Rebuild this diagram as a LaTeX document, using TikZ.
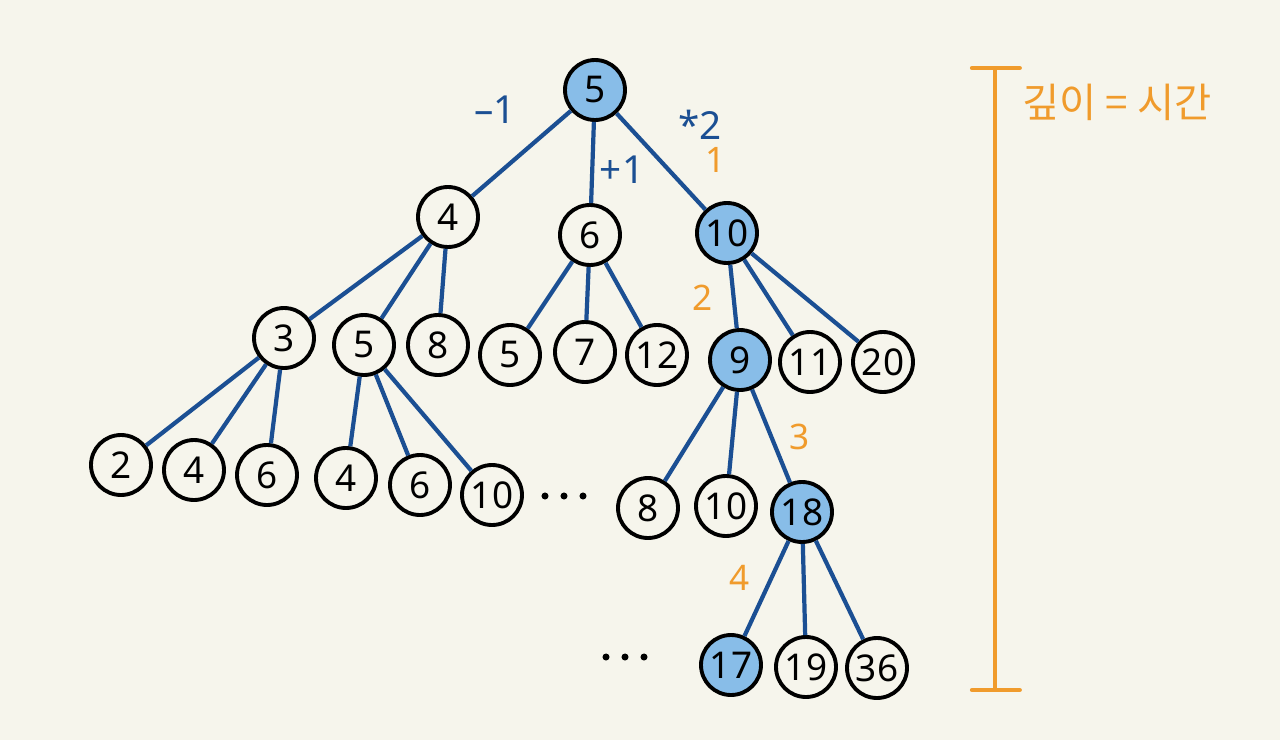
\documentclass[tikz,border=0pt]{standalone}
\usepackage{fontspec}
\setmainfont{Noto Sans}
\newfontfamily\kor{Noto Sans CJK KR}
\definecolor{bg}{HTML}{F6F5EC}
\definecolor{edgeblue}{HTML}{1B4F93}
\definecolor{fillblue}{HTML}{88BDE8}
\definecolor{orng}{HTML}{F09B2C}
\begin{document}
\begin{tikzpicture}[x=0.02cm,y=-0.02cm,
  nd/.style={circle,draw=black,line width=2.2pt,fill=bg,minimum size=1.2cm,inner sep=0pt,font=\fontsize{21}{21}\selectfont},
  hl/.style={nd,fill=fillblue},
  ed/.style={draw=edgeblue,line width=2.4pt},
  op/.style={text=edgeblue,font=\fontsize{22}{22}\selectfont},
  st/.style={text=orng,font=\fontsize{20}{20}\selectfont},
  dot/.style={circle,fill=black,inner sep=0pt,minimum size=4pt}]
\fill[bg] (0,0) rectangle (1280,740);
\useasboundingbox (0,0) rectangle (1280,740);
% level 0
\node[hl] (n5) at (595,90) {5};
% level 1
\node[nd] (n4) at (448,217) {4};
\node[nd] (n6) at (590,235) {6};
\node[hl] (n10) at (727,233) {10};
% level 2
\node[nd] (n3) at (284,338) {3};
\node[nd] (n5b) at (364,345) {5};
\node[nd] (n8) at (438,345) {8};
\node[nd] (n5c) at (510,355) {5};
\node[nd] (n7) at (585,352) {7};
\node[nd] (n12) at (657,355) {12};
\node[hl] (n9) at (740,360) {9};
\node[nd] (n11) at (810,362) {11};
\node[nd] (n20) at (883,362) {20};
% level 3
\node[nd] (n2) at (121,465) {2};
\node[nd] (n4b) at (194,470) {4};
\node[nd] (n6b) at (267,475) {6};
\node[nd] (n4c) at (346,478) {4};
\node[nd] (n6c) at (420,485) {6};
\node[nd] (n10b) at (492,495) {10};
\node[dot] (d1) at (545,496) {};
\node[dot] (d2) at (564,496) {};
\node[dot] (d3) at (583,496) {};
\node[nd] (n8b) at (648,508) {8};
\node[nd] (n10c) at (726,506) {10};
\node[hl] (n18) at (802,512) {18};
% level 4
\node[dot] (e1) at (606,657) {};
\node[dot] (e2) at (625,657) {};
\node[dot] (e3) at (644,657) {};
\node[hl] (n17) at (731,665) {17};
\node[nd] (n19) at (806,667) {19};
\node[nd] (n36) at (877,668) {36};
% edges
\draw[ed] (n5) -- (n4);
\draw[ed] (n5) -- (n6);
\draw[ed] (n5) -- (n10);
\draw[ed] (n4) -- (n3);
\draw[ed] (n4) -- (n5b);
\draw[ed] (n4) -- (n8);
\draw[ed] (n6) -- (n5c);
\draw[ed] (n6) -- (n7);
\draw[ed] (n6) -- (n12);
\draw[ed] (n10) -- (n9);
\draw[ed] (n10) -- (n11);
\draw[ed] (n10) -- (n20);
\draw[ed] (n3) -- (n2);
\draw[ed] (n3) -- (n4b);
\draw[ed] (n3) -- (n6b);
\draw[ed] (n5b) -- (n4c);
\draw[ed] (n5b) -- (n6c);
\draw[ed] (n5b) -- (n10b);
\draw[ed] (n9) -- (n8b);
\draw[ed] (n9) -- (n10c);
\draw[ed] (n9) -- (n18);
\draw[ed] (n18) -- (n17);
\draw[ed] (n18) -- (n19);
\draw[ed] (n18) -- (n36);
% operation labels
\node[op] (lm1) at (495,110) {–1};
\node[op] (lp1) at (622,170) {+1};
\node[op] (lx2) at (700,125) {*2};
% step labels
\node[st] (s1) at (716,160) {1};
\node[st] (s2) at (703,298) {2};
\node[st] (s3) at (800,437) {3};
\node[st] (s4) at (740,578) {4};
% depth bar
\coordinate (bt) at (995,68);
\coordinate (bb) at (995,690);
\draw[orng,line width=2.6pt] (bt) -- (bb);
\draw[orng,line width=2.6pt,line cap=round] ([xshift=-13]bt) -- ([xshift=14]bt);
\draw[orng,line width=2.6pt,line cap=round] ([xshift=-13]bb) -- ([xshift=14]bb);
\node[text=orng,font=\kor\fontsize{23}{23}\selectfont,anchor=west] (lbl) at (1016,102) {깊이 = 시간};
\end{tikzpicture}
\end{document}
